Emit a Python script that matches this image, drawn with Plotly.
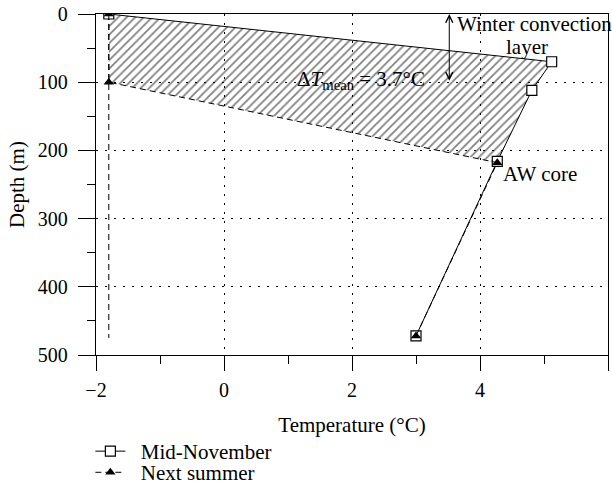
import plotly.graph_objects as go

# Data
nov_temp = [-1.8, 5.12, 4.81, 4.27, 3.0]
nov_depth = [0, 70, 112, 216, 472]
summer_temp = [-1.8, -1.8, 4.27, 3.0]
summer_depth = [0, 100, 218, 472]
freeze_temp = [-1.8, -1.8]
freeze_depth = [0, 475]
x_ticks = [-2, 0, 2, 4, 6]
y_ticks = [0, 100, 200, 300, 400, 500]

FONT = "Liberation Serif"
FS = 21
TFS = 20
BLACK = "black"

fig = go.Figure()

# hatched area between the two profiles (surface to AW core)
poly_x = nov_temp[:4] + summer_temp[2::-1]
poly_y = nov_depth[:4] + summer_depth[2::-1]
fig.add_trace(go.Scatter(
    x=poly_x, y=poly_y, mode="lines", fill="toself",
    fillcolor="rgba(0,0,0,0)",
    fillpattern=dict(shape="/", size=6, solidity=0.28, fgcolor=BLACK,
                     bgcolor="rgba(0,0,0,0)"),
    line=dict(width=0), showlegend=False, hoverinfo="skip"))

# freezing line
fig.add_trace(go.Scatter(
    x=freeze_temp, y=freeze_depth, mode="lines",
    line=dict(color=BLACK, width=1, dash="6px,4px"),
    showlegend=False, hoverinfo="skip"))

fig.add_trace(go.Scatter(
    x=nov_temp, y=nov_depth, mode="lines+markers",
    name="\u00a0\u00a0Mid-November", legend="legend",
    line=dict(color=BLACK, width=1),
    marker=dict(symbol="square", size=10, color="white",
                line=dict(color=BLACK, width=1.2))))

fig.add_trace(go.Scatter(
    x=summer_temp, y=summer_depth, mode="lines+markers",
    name="\u00a0\u00a0Next summer", legend="legend2",
    line=dict(color=BLACK, width=1, dash="6px,4px"),
    marker=dict(symbol="triangle-up", size=9, color=BLACK)))

axis_common = dict(
    showline=True, linecolor=BLACK, linewidth=1.3, mirror=True,
    ticks="outside", tickcolor=BLACK, tickwidth=1.3,
    showgrid=True, gridcolor=BLACK, gridwidth=1, griddash="1.5px,7.5px",
    zeroline=False,
    tickfont=dict(family=FONT, size=TFS, color=BLACK),
)

legend_common = dict(xanchor="left", yanchor="middle",
                     bgcolor="rgba(0,0,0,0)",
                     font=dict(family=FONT, size=FS, color=BLACK),
                     itemwidth=30)

fig.update_layout(
    width=612, height=491,
    margin=dict(l=96, r=4, t=14, b=136, autoexpand=False),
    paper_bgcolor="white", plot_bgcolor="white",
    font=dict(family=FONT, size=FS, color=BLACK),
    xaxis=dict(range=[-2, 6], tickvals=x_ticks, ticklen=15,
               minor=dict(dtick=1, tick0=-2, ticks="outside", ticklen=8,
                          tickwidth=1.3, tickcolor=BLACK, showgrid=False),
               title=dict(text="Temperature (°C)", standoff=17,
                          font=dict(family=FONT, size=FS, color=BLACK)),
               ticklabelstandoff=2,
               **axis_common),
    yaxis=dict(range=[500, 0], tickvals=y_ticks, ticklen=17,
               minor=dict(dtick=50, tick0=0, ticks="outside", ticklen=8,
                          tickwidth=1.3, tickcolor=BLACK, showgrid=False),
               title=dict(text="Depth (m)", standoff=7,
                          font=dict(family=FONT, size=FS, color=BLACK)),
               ticklabelstandoff=6,
               **axis_common),
    legend=dict(x=-0.011, y=-0.283, **legend_common),
    legend2=dict(x=-0.011, y=-0.345, **legend_common),
    showlegend=True,
)

fig.add_annotation(x=3.52, y=0, ax=3.52, ay=100, xref="x", yref="y",
                   axref="x", ayref="y", text="", showarrow=True,
                   arrowhead=5, startarrowhead=5, arrowside="end+start",
                   arrowsize=1.4, startarrowsize=1.4, arrowwidth=1,
                   arrowcolor=BLACK, standoff=0, startstandoff=0)
fig.add_annotation(x=3.61, y=15, xref="x", yref="y", text="Winter convection",
                   showarrow=False, xanchor="left", yanchor="middle",
                   font=dict(family=FONT, size=FS, color=BLACK))
fig.add_annotation(x=4.74, y=48, xref="x", yref="y", text="layer",
                   showarrow=False, xanchor="center", yanchor="middle",
                   font=dict(family=FONT, size=FS, color=BLACK))
fig.add_annotation(x=2.14, y=97, xref="x", yref="y",
                   text="Δ<i>T</i><sub>mean</sub> = 3.7°C",
                   showarrow=False, xanchor="center", yanchor="middle",
                   font=dict(family=FONT, size=FS, color=BLACK))
fig.add_annotation(x=4.33, y=234, xref="x", yref="y", text="AW core",
                   showarrow=False, xanchor="left", yanchor="middle",
                   font=dict(family=FONT, size=FS, color=BLACK))

fig.write_html("out.html")
